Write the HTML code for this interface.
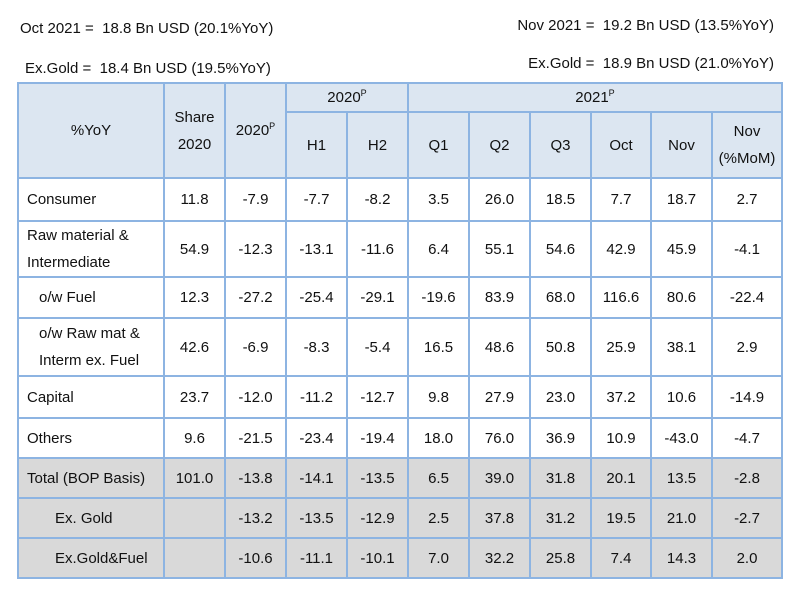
<!DOCTYPE html>
<html><head><meta charset="utf-8"><style>
body{margin:0;width:800px;height:600px;background:#fff;font-family:"Liberation Sans",sans-serif;color:#111;position:relative;overflow:hidden}
.note{position:absolute;font-size:15px;white-space:pre}
table{position:absolute;left:17px;top:82px;border-collapse:collapse;table-layout:fixed;font-size:15px}
td{border:2px solid #8db4e2;text-align:center;padding:0;line-height:27px}
.h td{background:#dce6f1}
.g td{background:#d9d9d9}
td.l{text-align:left;padding-left:8px}
td.l2{text-align:left;padding-left:20px}
td.l3{text-align:left;padding-left:36px}
sup{font-size:9px;line-height:0}
</style></head><body>
<div class="note" style="left:20px;top:20px">Oct 2021 =  18.8 Bn USD (20.1%YoY)</div>
<div class="note" style="left:25px;top:60px">Ex.Gold =  18.4 Bn USD (19.5%YoY)</div>
<div class="note" style="right:26px;top:17px">Nov 2021 =  19.2 Bn USD (13.5%YoY)</div>
<div class="note" style="right:26px;top:55px">Ex.Gold =  18.9 Bn USD (21.0%YoY)</div>
<table>
<colgroup><col style="width:146px"><col style="width:61px"><col style="width:61px"><col style="width:61px"><col style="width:61px"><col style="width:61px"><col style="width:61px"><col style="width:61px"><col style="width:60px"><col style="width:61px"><col style="width:70px"></colgroup>
<tr class="h" style="height:29px"><td rowspan="2">%YoY</td><td rowspan="2">Share<br>2020</td><td rowspan="2">2020<sup>P</sup></td><td colspan="2" style="line-height:22px">2020<sup>P</sup></td><td colspan="6" style="line-height:22px">2021<sup>P</sup></td></tr>
<tr class="h" style="height:66px"><td>H1</td><td>H2</td><td>Q1</td><td>Q2</td><td>Q3</td><td>Oct</td><td>Nov</td><td>Nov<br>(%MoM)</td></tr>
<tr style="height:43px"><td class="l">Consumer</td><td>11.8</td><td>-7.9</td><td>-7.7</td><td>-8.2</td><td>3.5</td><td>26.0</td><td>18.5</td><td>7.7</td><td>18.7</td><td>2.7</td></tr>
<tr style="height:56px"><td class="l">Raw material &amp;<br>Intermediate</td><td>54.9</td><td>-12.3</td><td>-13.1</td><td>-11.6</td><td>6.4</td><td>55.1</td><td>54.6</td><td>42.9</td><td>45.9</td><td>-4.1</td></tr>
<tr style="height:41px"><td class="l2">o/w Fuel</td><td>12.3</td><td>-27.2</td><td>-25.4</td><td>-29.1</td><td>-19.6</td><td>83.9</td><td>68.0</td><td>116.6</td><td>80.6</td><td>-22.4</td></tr>
<tr style="height:58px"><td class="l2">o/w Raw mat &amp;<br>Interm ex. Fuel</td><td>42.6</td><td>-6.9</td><td>-8.3</td><td>-5.4</td><td>16.5</td><td>48.6</td><td>50.8</td><td>25.9</td><td>38.1</td><td>2.9</td></tr>
<tr style="height:42px"><td class="l">Capital</td><td>23.7</td><td>-12.0</td><td>-11.2</td><td>-12.7</td><td>9.8</td><td>27.9</td><td>23.0</td><td>37.2</td><td>10.6</td><td>-14.9</td></tr>
<tr style="height:40px"><td class="l">Others</td><td>9.6</td><td>-21.5</td><td>-23.4</td><td>-19.4</td><td>18.0</td><td>76.0</td><td>36.9</td><td>10.9</td><td>-43.0</td><td>-4.7</td></tr>
<tr class="g" style="height:40px"><td class="l">Total (BOP Basis)</td><td>101.0</td><td>-13.8</td><td>-14.1</td><td>-13.5</td><td>6.5</td><td>39.0</td><td>31.8</td><td>20.1</td><td>13.5</td><td>-2.8</td></tr>
<tr class="g" style="height:40px"><td class="l3">Ex. Gold</td><td></td><td>-13.2</td><td>-13.5</td><td>-12.9</td><td>2.5</td><td>37.8</td><td>31.2</td><td>19.5</td><td>21.0</td><td>-2.7</td></tr>
<tr class="g" style="height:40px"><td class="l3">Ex.Gold&amp;Fuel</td><td></td><td>-10.6</td><td>-11.1</td><td>-10.1</td><td>7.0</td><td>32.2</td><td>25.8</td><td>7.4</td><td>14.3</td><td>2.0</td></tr>
</table>
</body></html>
